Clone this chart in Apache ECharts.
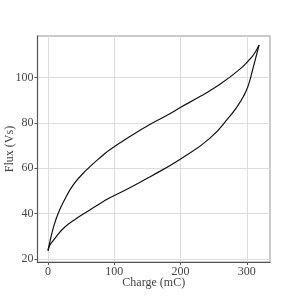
<!DOCTYPE html>
<html>
<head>
<meta charset="utf-8">
<script src="https://cdn.jsdelivr.net/npm/echarts@6/dist/echarts.min.js"></script>
<style>html,body{margin:0;padding:0;background:#fff;}#c{width:300px;height:300px;}</style>
</head>
<body>
<div id="c"></div>
<script>
var chargeUpper = [0, 3, 8.6, 15, 23.7, 38.8, 58.9, 84.1, 93.2, 123.4, 153.6, 183.8, 198.9, 229.2, 259.4, 289.6, 304.7, 312, 318.5];
var fluxUpper   = [23.7, 28, 34.5, 40, 45.5, 53, 59.5, 66.1, 68.2, 74, 79.3, 84, 86.7, 91.6, 97, 103.7, 108.1, 110.8, 114.3];
var chargeLower = [0, 2, 8.6, 23.7, 43.8, 64, 84.1, 93.2, 123.4, 153.6, 198.9, 244, 274.5, 285, 294.6, 302, 309.7, 318.5];
var fluxLower   = [23.7, 25.8, 28.5, 33.7, 38.1, 41.8, 45.5, 47, 51.4, 56.2, 63.9, 73.2, 83, 87, 91.5, 96.3, 104.5, 114.3];
var xTicks = [0, 100, 200, 300];
var yTicks = [20, 40, 60, 80, 100];

function pairs(xs, ys){ return xs.map(function(x,i){ return [x, ys[i]]; }); }

var font = 'Liberation Serif';
var chart = echarts.init(document.getElementById('c'), null, {renderer:'canvas'});
chart.setOption({
  animation: false,
  backgroundColor: '#fff',
  grid: {left: 37.5, right: 30, top: 36, bottom: 38, containLabel: false, outerBoundsMode: 'none',
         show: true, borderColor: '#bbbbbb', borderWidth: 1.5},
  xAxis: {
    type: 'value', min: -16, max: 335, interval: 100,
    name: 'Charge (mC)', nameLocation: 'middle', nameGap: 15, nameMoveOverlap: false,
    nameTextStyle: {fontFamily: font, fontSize: 12, color: '#444'},
    axisLine: {show: true, onZero: false, lineStyle: {color: '#555', width: 1}},
    axisTick: {show: true, length: 3, lineStyle: {color: '#555'}, customValues: xTicks},
    axisLabel: {fontFamily: font, fontSize: 12, color: '#444', margin: 4, customValues: xTicks},
    splitLine: {show: true, lineStyle: {color: '#dddddd', width: 1}, customValues: xTicks}
  },
  yAxis: {
    type: 'value', min: 18.7, max: 118.3,
    name: 'Flux (Vs)', nameLocation: 'middle', nameGap: 22, nameMoveOverlap: false,
    nameTextStyle: {fontFamily: font, fontSize: 12, color: '#444'},
    axisLine: {show: true, onZero: false, lineStyle: {color: '#555', width: 1}},
    axisTick: {show: true, length: 3, lineStyle: {color: '#555'}, customValues: yTicks},
    axisLabel: {fontFamily: font, fontSize: 12, color: '#444', margin: 4, customValues: yTicks},
    splitLine: {show: true, lineStyle: {color: '#dddddd', width: 1}, customValues: yTicks}
  },
  series: [
    {type: 'line', data: pairs(chargeUpper, fluxUpper), smooth: 0.5, symbol: 'none',
     lineStyle: {color: '#111', width: 1.2}},
    {type: 'line', data: pairs(chargeLower, fluxLower), smooth: 0.5, symbol: 'none',
     lineStyle: {color: '#111', width: 1.2}}
  ]
});
</script>
</body>
</html>
